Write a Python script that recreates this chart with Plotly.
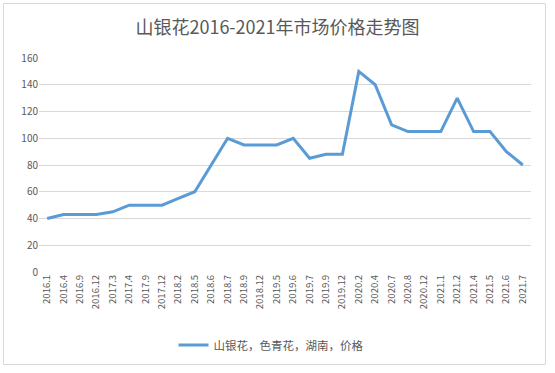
import plotly.graph_objects as go

categories = ["2016.1", "2016.4", "2016.9", "2016.12", "2017.3", "2017.4", "2017.9", "2017.12",
              "2018.2", "2018.5", "2018.6", "2018.7", "2018.9", "2018.12", "2019.5", "2019.6",
              "2019.7", "2019.9", "2019.12", "2020.2", "2020.4", "2020.7", "2020.8", "2020.12",
              "2021.1", "2021.2", "2021.4", "2021.5", "2021.6", "2021.7"]
prices = [40, 43, 43, 43, 45, 50, 50, 50, 55, 60, 80, 100, 95, 95, 95, 100,
          85, 88, 88, 150, 140, 110, 105, 105, 105, 130, 105, 105, 90, 80]
series_name = "山银花，色青花，湖南，价格"
title_text = "山银花2016-2021年市场价格走势图"
y_ticks = [0, 20, 40, 60, 80, 100, 120, 140, 160]

W, H = 555, 373
L, R, T, B = 39, 24, 58, 101
pw, ph = W - L - R, H - T - B

def px_x(x):
    return (x - L) / pw

def px_y(y):
    return (H - B - y) / ph

font_family = "Noto Sans CJK SC, Noto Sans, sans-serif"
grey = "#595959"

fig = go.Figure()
fig.add_trace(go.Scatter(
    x=categories, y=prices, mode="lines", name=series_name,
    line=dict(color="#5B9BD5", width=3),
))

fig.update_layout(
    width=W, height=H,
    margin=dict(l=L, r=R, t=T, b=B, autoexpand=False),
    paper_bgcolor="white", plot_bgcolor="white",
    font=dict(family=font_family, color=grey, size=10),
    title=dict(text=title_text, x=0.5, xanchor="center", y=1 - 28 / H, yanchor="middle",
               font=dict(size=18, color=grey, family=font_family)),
    showlegend=True,
    legend=dict(orientation="h", x=px_x(271), xanchor="center", y=px_y(345), yanchor="middle",
                font=dict(size=11.5, color=grey), itemwidth=30),
    xaxis=dict(type="category", tickangle=-90, showgrid=False, zeroline=False,
               showline=False, ticks="", tickfont=dict(size=9.5, color=grey),
               range=[-0.5, len(categories) - 0.5], automargin=False),
    yaxis=dict(range=[0, 160], tickvals=y_ticks, showgrid=True, gridcolor="#d9d9d9",
               gridwidth=1, zeroline=False, showline=False, ticks="",
               tickfont=dict(size=10, color=grey), automargin=False),
    shapes=[dict(type="rect", xref="paper", yref="paper",
                 x0=px_x(3.5), x1=px_x(545.5), y0=px_y(364.5), y1=px_y(3.5),
                 line=dict(color="#d9d9d9", width=1), fillcolor="rgba(0,0,0,0)", layer="below")],
)

fig.write_html("out.html", config={"displayModeBar": False},
               post_script="document.body.style.margin='0';")
